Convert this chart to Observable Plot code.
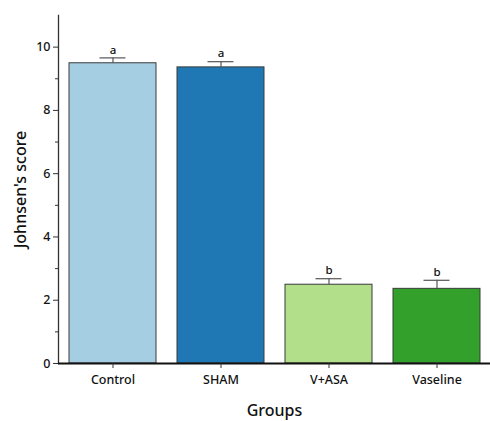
<!DOCTYPE html>
<html>
<head>
<meta charset="utf-8">
<script src="https://cdn.jsdelivr.net/npm/d3@7"></script>
<script src="https://cdn.jsdelivr.net/npm/@observablehq/plot@0.6"></script>
<style>
  body { margin: 0; background: #fff; }
  #chart svg { font-family: "Noto Sans", sans-serif; }
</style>
</head>
<body>
<div id="chart"></div>
<script>
const groups = ["Control", "SHAM", "V+ASA", "Vaseline"];
const scores = [9.49, 9.36, 2.49, 2.36];
const errors = [0.17, 0.18, 0.19, 0.27];
const letters = ["a", "a", "b", "b"];
const colors = ["#a6cee3", "#1f78b4", "#b2df8a", "#33a02c"];
const majorTicks = [0, 2, 4, 6, 8, 10];
const minorTicks = [1, 3, 5, 7, 9];

const data = groups.map((g, i) => ({group: g, score: scores[i], err: errors[i], top: scores[i] + errors[i], letter: letters[i]}));

const chart = Plot.plot({
  width: 490,
  height: 421,
  marginLeft: 58,
  marginRight: 0,
  marginTop: 15,
  marginBottom: 58,
  style: {fontFamily: "Noto Sans, sans-serif", background: "#fff"},
  x: {domain: groups, paddingInner: 0.195, paddingOuter: 0.0975, label: null},
  y: {domain: [0, 11], label: null},
  color: {domain: groups, range: colors},
  marks: [
    Plot.barY(data, {x: "group", y: "score", fill: "group", stroke: "#3a3a3a", strokeWidth: 1}),
    Plot.ruleX(data, {x: "group", y1: "score", y2: "top", stroke: "#555", strokeWidth: 1.2}),
    Plot.tickY(data, {x: "group", y: "top", stroke: "#555", strokeWidth: 1.2, insetLeft: 30.5, insetRight: 30.5}),
    Plot.text(data, {x: "group", y: "top", text: "letter", dy: -8, fontSize: 11.5, fontWeight: 500, fill: "#111"}),
    Plot.frame({anchor: "left", stroke: "#333", strokeWidth: 1.3}),
    Plot.ruleY([0], {stroke: "#111", strokeWidth: 1.8}),
    Plot.axisY({ticks: majorTicks, tickSize: 5, tickPadding: 3, fontSize: 12.5, fontWeight: 500, stroke: "#333", fill: "#111",
      label: "Johnsen's score", labelAnchor: "center", labelArrow: "none", labelOffset: 44}),
    Plot.axisY({ticks: minorTicks, tickSize: 3, text: null, stroke: "#333", label: null}),
    Plot.axisX({tickSize: 5, tickPadding: 7, fontSize: 12.5, fontWeight: 500, stroke: "#333", fill: "#111",
      label: "Groups", labelAnchor: "center", labelArrow: "none", labelOffset: 52})
  ]
});

// Enlarge axis titles
chart.querySelectorAll("g[aria-label='y-axis label'] text, g[aria-label='x-axis label'] text").forEach(t => {
  t.style.fontSize = "16px";
  t.style.fontWeight = "500";
  t.style.fill = "#111";
});
document.getElementById("chart").appendChild(chart);
</script>
</body>
</html>
